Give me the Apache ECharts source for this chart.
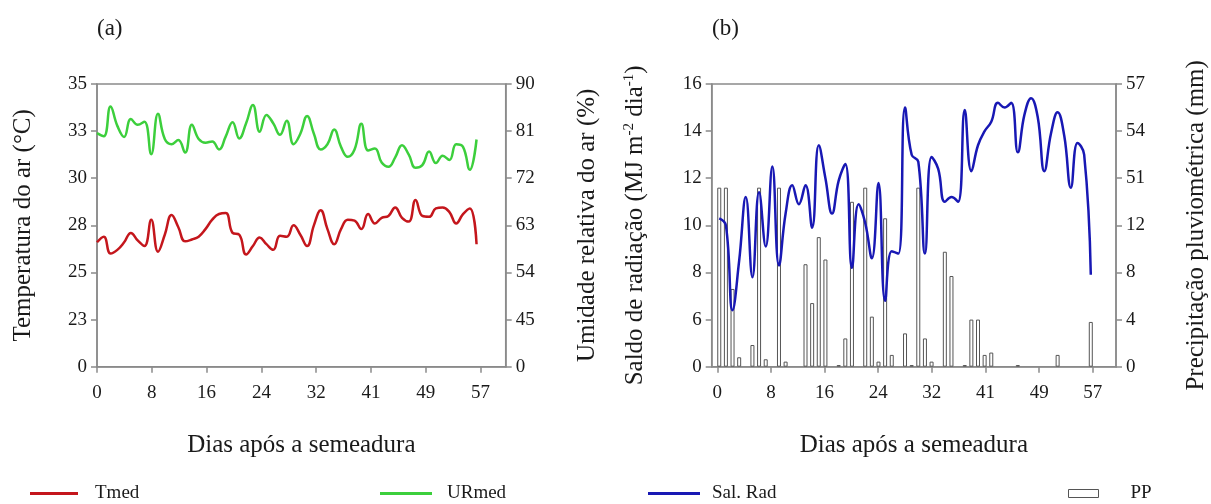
<!DOCTYPE html>
<html><head><meta charset="utf-8">
<script src="https://cdn.jsdelivr.net/npm/echarts@6/dist/echarts.min.js"></script>
<style>html,body{margin:0;padding:0;background:#fff}#c{width:1211px;height:504px}</style>
</head><body><div id="c"></div>
<script>
// ---- data ----
const days = [0,1,2,3,4,5,6,7,8,9,10,11,12,13,14,15,16,17,18,19,20,21,22,23,24,25,26,27,28,29,30,31,32,33,34,35,36,37,38,39,40,41,42,43,44,45,46,47,48,49,50,51,52,53,54,55,56];
const tmed = [26.6,26.9,26.0,26.2,26.6,27.1,26.7,26.4,27.8,26.1,27.0,28.05,27.4,26.65,26.75,26.9,27.3,27.8,28.1,28.15,27.1,27.0,25.95,26.4,26.85,26.5,26.2,26.95,26.9,27.5,27.0,26.4,27.5,28.3,27.3,26.5,27.3,27.8,27.75,27.3,28.1,27.6,27.9,28.0,28.45,27.9,27.7,28.85,28.0,27.95,28.4,28.45,28.2,27.6,28.1,28.4,26.5];
const urmed = [80.6,80.0,85.7,82.0,79.9,83.3,82.2,82.8,76.6,84.3,79.5,78.5,79.3,76.9,82.2,79.5,78.8,79.0,77.5,80.0,82.7,79.6,82.5,86.0,80.9,84.1,82.5,80.3,83.0,78.5,80.5,83.9,80.5,77.5,78.5,81.3,78.0,76.1,77.5,82.4,77.3,77.7,75.0,74.2,76.0,78.3,76.5,74.0,74.5,77.1,74.9,76.3,75.5,78.5,78.0,73.6,79.4];
const salRad = [10.3,10.0,6.4,8.5,11.2,7.8,11.4,9.1,12.5,8.3,10.5,11.7,10.9,11.7,9.9,13.4,12.0,10.5,11.9,12.6,8.2,10.9,10.1,8.6,11.8,6.8,8.9,8.8,15.0,13.0,12.7,8.8,12.9,12.4,11.0,11.2,11.0,14.9,12.3,13.4,14.0,14.4,15.2,15.0,15.2,13.1,14.7,15.4,14.6,12.3,13.9,14.8,13.8,11.6,13.5,13.0,7.9];
// precipitation in units of the (broken) right axis of panel (b); tall bars are cut at the break
const pp = [15.2,15.2,6.6,0.8,0,1.84,15.2,0.63,0,15.2,0.43,0,0,8.7,5.4,11.0,9.1,0,0.14,2.4,14.0,0,15.2,4.25,0.43,12.6,1.0,0,2.83,0.14,15.2,2.4,0.43,0,9.76,7.7,0,0.14,4.0,4.0,1.0,1.2,0,0,0,0.14,0,0,0,0,0,1.0,0,0,0,0,3.8];

const xTickLabels = ['0','8','16','24','32','41','49','57'];
const tempTickLabels = ['0','23','25','28','30','33','35'];
const rhTickLabels = ['0','45','54','63','72','81','90'];
const radTickLabels = ['0','6','8','10','12','14','16'];
const ppTickLabels = ['0','4','8','12','51','54','57'];

// ---- styling / layout ----
const FONT = "'Liberation Serif','Times New Roman',serif";
const TXT = '#1a1a1a';
const AX = '#8a8a8a';
const FS = 19;   // tick labels / legend
const NFS = 25;  // axis names
const xStep = 56.6 / 7;
const xTicksA = xTickLabels.map((_, i) => i * xStep);
const xTicksB = xTickLabels.map((_, i) => i * xStep - 0.3);

function lab(labels, min, interval) {
  return v => { const i = Math.round((v - min) / interval); return labels[i] !== undefined ? labels[i] : ''; };
}
function xAxisCfg(idx, min, max, ticks, offset) {
  return {
    type: 'value', gridIndex: idx, min: min, max: max,
    name: 'Dias após a semeadura', nameLocation: 'middle', nameGap: 66,
    nameTextStyle: {fontFamily: FONT, fontSize: NFS, color: TXT},
    axisLine: {show: true, lineStyle: {color: AX, width: 1.5}},
    axisTick: {show: true, customValues: ticks, length: 6, lineStyle: {color: AX, width: 1.5}},
    axisLabel: {customValues: ticks, margin: 17, fontFamily: FONT, fontSize: FS, color: TXT,
      formatter: v => xTickLabels[Math.round((v - offset) / xStep)]},
    splitLine: {show: false}
  };
}
function yAxisCfg(idx, pos, min, max, interval, labels, name, gap, rich) {
  return {
    type: 'value', gridIndex: idx, position: pos, min: min, max: max, interval: interval,
    name: name, nameLocation: 'middle', nameGap: gap, nameRotate: 90,
    nameTextStyle: Object.assign({fontFamily: FONT, fontSize: NFS, color: TXT, lineHeight: 28}, rich ? {rich: rich} : {}),
    axisLine: {show: true, onZero: false, lineStyle: {color: AX, width: 1.5}},
    axisTick: {show: true, length: 6, lineStyle: {color: AX, width: 1.5}},
    axisLabel: {margin: 10, fontFamily: FONT, fontSize: FS, color: TXT, formatter: lab(labels, min, interval)},
    splitLine: {show: false}
  };
}
const supRich = {sup: {fontFamily: FONT, fontSize: 15, color: TXT, verticalAlign: 'top', lineHeight: 15}};

function legendCfg(name, left, w, h, pad, extra) {
  return Object.assign({
    data: [name], left: left, top: 479, itemWidth: w, itemHeight: h, itemGap: 0, icon: 'rect',
    textStyle: {fontFamily: FONT, fontSize: FS, color: TXT, padding: [0, 0, 0, pad]},
    selectedMode: false
  }, extra || {});
}

const chart = echarts.init(document.getElementById('c'), null, {renderer: 'canvas'});
chart.setOption({
  animation: false,
  backgroundColor: '#fff',
  title: [
    {text: '(a)', left: 92, top: 12, textStyle: {fontFamily: FONT, fontSize: 23, fontWeight: 'normal', color: TXT}},
    {text: '(b)', left: 707, top: 12, textStyle: {fontFamily: FONT, fontSize: 23, fontWeight: 'normal', color: TXT}}
  ],
  grid: [
    {left: 97, right: 705.3, top: 84, bottom: 137.3, show: true, borderColor: AX, borderWidth: 1.5, backgroundColor: 'transparent'},
    {left: 711.7, right: 92.7, top: 84, bottom: 137.3, show: true, borderColor: AX, borderWidth: 1.5, backgroundColor: 'transparent'}
  ],
  xAxis: [
    xAxisCfg(0, 0, 60.3, xTicksA, 0),
    xAxisCfg(1, -1.14, 59.8, xTicksB, -0.3)
  ],
  yAxis: [
    yAxisCfg(0, 'left', 20, 35, 2.5, tempTickLabels, 'Temperatura do ar (°C)', 60),
    yAxisCfg(0, 'right', 36, 90, 9, rhTickLabels, 'Umidade relativa do ar (%)', 68),
    yAxisCfg(1, 'left', 4, 16, 2, radTickLabels, 'Saldo de radiação (MJ m{sup|-2} dia{sup|-1})', 62, supRich),
    yAxisCfg(1, 'right', 0, 24, 4, ppTickLabels, 'Precipitação pluviométrica (mm)', 66)
  ],
  legend: [
    legendCfg('Tmed', 25, 48, 3, 12),
    legendCfg('URmed', 375, 52, 3, 10),
    legendCfg('Sal. Rad', 643, 52, 3, 7),
    legendCfg('PP', 1063, 30, 8, 27, {itemStyle: {color: '#ffffff', borderColor: '#555555', borderWidth: 1}})
  ],
  series: [
    {name: 'Tmed', type: 'line', xAxisIndex: 0, yAxisIndex: 0, smooth: 0.45, symbol: 'none',
      lineStyle: {color: '#c4161c', width: 2.5}, itemStyle: {color: '#c4161c'},
      data: days.map((d, i) => [d, tmed[i]])},
    {name: 'URmed', type: 'line', xAxisIndex: 0, yAxisIndex: 1, smooth: 0.45, symbol: 'none',
      lineStyle: {color: '#3ccf3c', width: 2.5}, itemStyle: {color: '#3ccf3c'},
      data: days.map((d, i) => [d, urmed[i]])},
    {name: 'PP', type: 'bar', xAxisIndex: 1, yAxisIndex: 3, barWidth: 4, z: 1,
      itemStyle: {color: '#ffffff', borderColor: '#555555', borderWidth: 1},
      data: days.map((d, i) => [d, pp[i] > 0 ? pp[i] : null])},
    {name: 'Sal. Rad', type: 'line', xAxisIndex: 1, yAxisIndex: 2, smooth: 0.45, symbol: 'none', z: 3,
      lineStyle: {color: '#1818b4', width: 2.5}, itemStyle: {color: '#1818b4'},
      data: days.map((d, i) => [d, salRad[i]])}
  ]
});
</script></body></html>
